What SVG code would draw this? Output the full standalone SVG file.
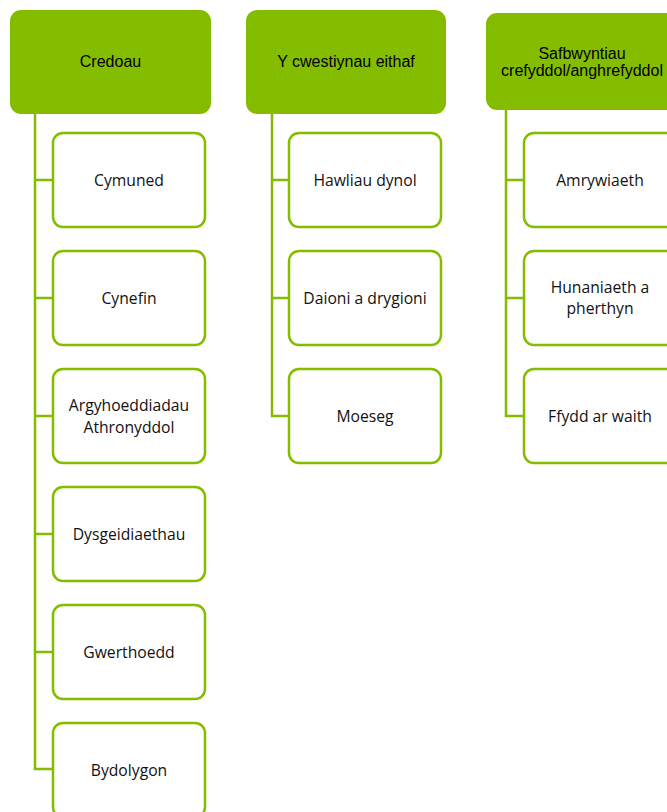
<svg xmlns="http://www.w3.org/2000/svg" width="667" height="812" viewBox="0 0 667 812">
<style>
.hdr{fill:#84BD00;}
.box{fill:#FFFFFF;stroke:#84BD00;stroke-width:2.5;}
.ln{fill:none;stroke:#84BD00;stroke-width:2.5;}
.ht{font-family:"Liberation Sans",Arial,sans-serif;font-size:16px;fill:#000;text-anchor:middle;}
.ct{font-family:"Open Sans","Noto Sans",sans-serif;font-size:15.7px;fill:#111;text-anchor:middle;}
</style>
<rect width="667" height="812" fill="#FFFFFF"/>
<g id="connectors">
<path class="ln" d="M35,114 V769 H53 M35,180 H53 M35,298 H53 M35,416 H53 M35,534 H53 M35,652 H53"/>
<path class="ln" d="M272,114 V416 H289 M272,180 H289 M272,298 H289"/>
<path class="ln" d="M506,110 V416 H524 M506,180 H524 M506,298 H524"/>
</g>
<g id="credoau"><rect class="hdr" x="10" y="10" width="201" height="104" rx="11"/><text class="ht" x="110.5" y="67">Credoau</text></g>
<g id="cwestiynau"><rect class="hdr" x="246" y="10" width="200" height="104" rx="11"/><text class="ht" x="346" y="67">Y cwestiynau eithaf</text></g>
<g id="safbwyntiau"><rect class="hdr" x="486" y="13" width="200" height="97" rx="11"/><text class="ht" x="582" y="59">Safbwyntiau</text><text class="ht" x="582" y="76">crefyddol/anghrefyddol</text></g>
<g id="cymuned"><rect class="box" x="53" y="133" width="152" height="94" rx="10"/><text class="ct" x="129" y="186">Cymuned</text></g>
<g id="cynefin"><rect class="box" x="53" y="251" width="152" height="94" rx="10"/><text class="ct" x="129" y="304">Cynefin</text></g>
<g id="argyhoeddiadau"><rect class="box" x="53" y="369" width="152" height="94" rx="10"/><text class="ct" x="129" y="411">Argyhoeddiadau</text><text class="ct" x="129" y="433">Athronyddol</text></g>
<g id="dysgeidiaethau"><rect class="box" x="53" y="487" width="152" height="94" rx="10"/><text class="ct" x="129" y="540">Dysgeidiaethau</text></g>
<g id="gwerthoedd"><rect class="box" x="53" y="605" width="152" height="94" rx="10"/><text class="ct" x="129" y="658">Gwerthoedd</text></g>
<g id="bydolygon"><rect class="box" x="53" y="723" width="152" height="94" rx="10"/><text class="ct" x="129" y="776">Bydolygon</text></g>
<g id="hawliau"><rect class="box" x="289" y="133" width="152" height="94" rx="10"/><text class="ct" x="365" y="186">Hawliau dynol</text></g>
<g id="daioni"><rect class="box" x="289" y="251" width="152" height="94" rx="10"/><text class="ct" x="365" y="304">Daioni a drygioni</text></g>
<g id="moeseg"><rect class="box" x="289" y="369" width="152" height="94" rx="10"/><text class="ct" x="365" y="422">Moeseg</text></g>
<g id="amrywiaeth"><rect class="box" x="524" y="133" width="152" height="94" rx="10"/><text class="ct" x="600" y="186">Amrywiaeth</text></g>
<g id="hunaniaeth"><rect class="box" x="524" y="251" width="152" height="94" rx="10"/><text class="ct" x="600" y="293">Hunaniaeth a</text><text class="ct" x="600" y="314">pherthyn</text></g>
<g id="ffydd"><rect class="box" x="524" y="369" width="152" height="94" rx="10"/><text class="ct" x="600" y="422">Ffydd ar waith</text></g>
</svg>
